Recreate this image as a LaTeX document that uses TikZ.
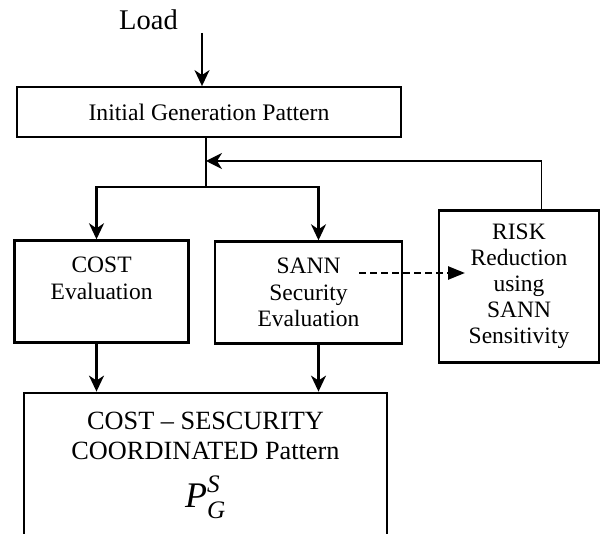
\documentclass[tikz,border=0pt]{standalone}
\usepackage{fontspec}
\setmainfont{Liberation Serif}
\usetikzlibrary{arrows.meta}
\tikzstyle{block}=[draw,rectangle,line width=2.8pt,inner sep=0pt,align=center,font=\fontsize{23.5}{26.5}\selectfont]
\tikzstyle{flow} = [draw,line width=2.2pt,-{Stealth[length=16pt,width=15pt,inset=5pt]}]
\tikzstyle{feedback} = [draw,line width=1.4pt,-{Stealth[length=16pt,width=16pt,inset=5pt]}]
\tikzstyle{hint} = [draw,line width=2.5pt,dash pattern=on 7pt off 4pt,-{Triangle[length=17pt,width=13pt]}]

\begin{document}
\begin{tikzpicture}[x=1pt,y=-1pt]
    \useasboundingbox (0,0) rectangle (600,534);
    % First we draw the boxes
    \node[anchor=base,font=\fontsize{28.5}{30}\selectfont] (load) at (148.5,30) {Load};
    \node[block,line width=1.8pt,minimum width=384pt,minimum height=50pt,font=\fontsize{23.7}{26}\selectfont] (init) at (209,112) {Initial Generation Pattern};
    \node[block,minimum width=174pt,minimum height=102pt] (cost) at (101.6,291.7) {COST\\Evaluation\\~};
    \node[block,minimum width=187pt,minimum height=101.6pt] (sann) at (308.5,292.5) {SANN\\Security\\Evaluation};
    \node[block,line width=2.3pt,minimum width=160pt,minimum height=152pt,font=\fontsize{23.5}{26}\selectfont] (risk) at (519,286.6) {RISK\\Reduction\\using\\SANN\\Sensitivity};
    \node[block,minimum width=363pt,minimum height=151pt,font=\fontsize{26.3}{30}\selectfont] (result) at (205.5,468.5)
        {COST – SESCURITY\\COORDINATED Pattern\\[13pt]{\fontsize{36}{40}\selectfont$\mathit{P}_{\mathit{G}\mathstrut}^{\mathit{S}\mathstrut}$}};

    % Points where the lines turn
    \coordinate (feed) at (202,33);
    \coordinate (split) at (206,187);
    \coordinate (join) at (206,161);
    \coordinate (back) at (541.7,161);
    \coordinate (lft) at (96.5,187);
    \coordinate (rgt) at (318.5,187);
    \coordinate (dstart) at (359,273);
    \coordinate (dend) at (465,273);

    % Connect boxes with arrows
    \path[flow] (feed) -- (feed |- init.north);
    \draw[line width=2.2pt] (split |- init.south) -- (split);
    \path[feedback] (back |- risk.north) -- (back) -- (join);
    \foreach \pt/\up in {lft/cost, rgt/sann}
        \path[flow] (split) -| (\pt |- \up.north);
    \foreach \pt/\up in {lft/cost, rgt/sann}
        \path[flow] (\pt |- \up.south) -- (\pt |- result.north);
    \path[hint] (dstart) -- (dend);
\end{tikzpicture}
\end{document}
